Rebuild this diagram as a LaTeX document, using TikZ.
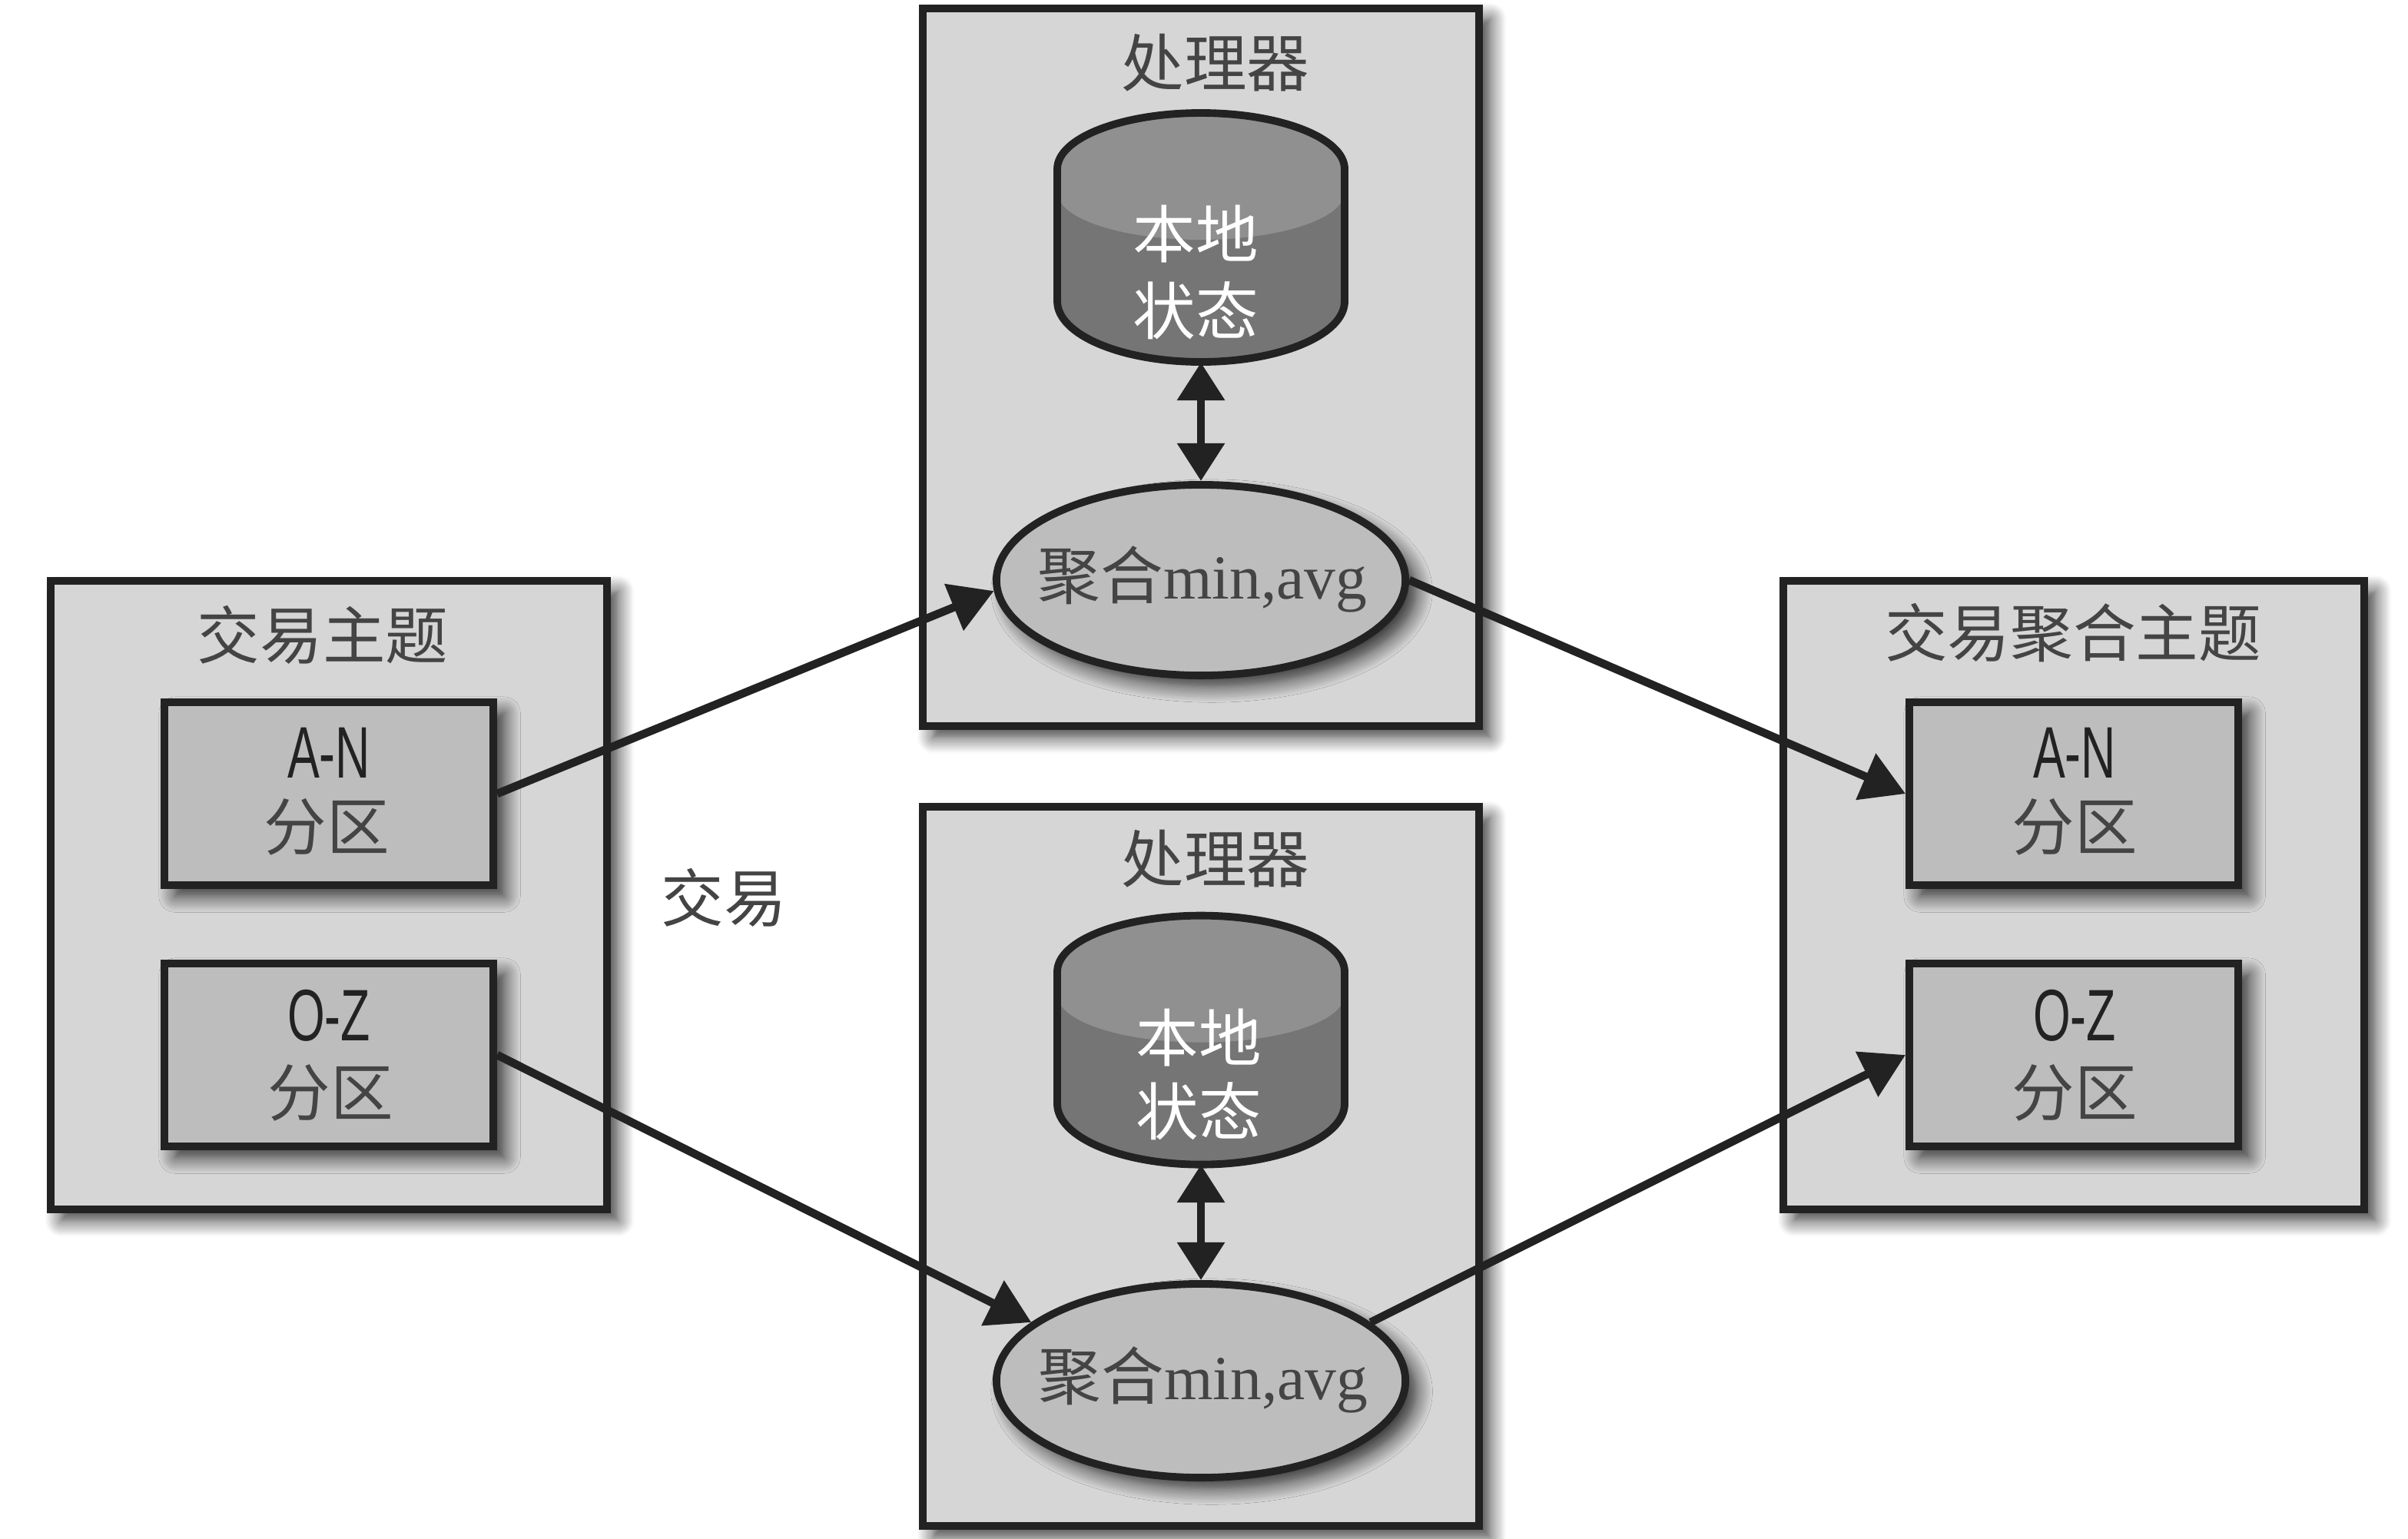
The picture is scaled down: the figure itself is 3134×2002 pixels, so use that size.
\documentclass[tikz,border=0pt]{standalone}
\usepackage{fontspec}
\setmainfont{Liberation Serif}
\newfontfamily\cjk{Noto Sans CJK SC}
\newfontfamily\latinsans{Liberation Sans}
\usetikzlibrary{shapes.geometric,arrows.meta,shadows.blur}
\definecolor{ink}{HTML}{222222}
\definecolor{txt}{HTML}{444444}
\definecolor{boxfill}{HTML}{D6D6D6}
\definecolor{partfill}{HTML}{BDBDBD}
\definecolor{dbtop}{HTML}{909090}
\definecolor{dbbody}{HTML}{757575}
\tikzset{
  softshadow/.style={blur shadow={shadow xshift=4pt,shadow yshift=-4pt,shadow blur radius=6pt,shadow blur steps=10,shadow opacity=80}},
  outerbox/.style={draw=ink,line width=2.8pt,fill=boxfill,rectangle,softshadow,inner sep=0pt},
  partbox/.style={draw=ink,line width=2.8pt,fill=partfill,rectangle,softshadow,inner sep=0pt,minimum width=4.28cm,minimum height=2.38cm},
  aggnode/.style={draw=ink,line width=2.8pt,fill=partfill,ellipse,softshadow,inner sep=0pt,minimum width=5.32cm,minimum height=2.48cm},
  dbanchor/.style={rectangle,inner sep=0pt,minimum width=3.74cm,minimum height=3.24cm},
  label/.style={text=txt,inner sep=0pt,font=\cjk\fontsize{23.2}{27}\selectfont},
  dblabel/.style={text=white,inner sep=0pt,font=\cjk\fontsize{23.2}{27}\selectfont},
  code/.style={text=ink,inner sep=0pt,font=\latinsans\fontsize{27}{31}\selectfont,xscale=.66},
  flow/.style={draw=ink,line width=3pt,-{Triangle[length=16pt,width=18pt]}},
  bothflow/.style={draw=ink,line width=3pt,{Triangle[length=14pt,width=17pt]}-{Triangle[length=14pt,width=17pt]}}
}
\newcommand{\dbdraw}[1]{%
  \begin{scope}[yshift=#1]
    \fill[dbbody] (1376,220) -- (1376,392) arc[x radius=187,y radius=79,start angle=180,end angle=0] -- (1750,220) -- cycle;
    \fill[dbtop] (1376,220) arc[x radius=187,y radius=73,start angle=180,end angle=360] -- (1750,250) arc[x radius=187,y radius=62,start angle=0,end angle=180] -- cycle;
    \draw[ink,line width=2.8pt] (1376,220) arc[x radius=187,y radius=73,start angle=180,end angle=360] -- (1750,392) arc[x radius=187,y radius=79,start angle=0,end angle=180] -- cycle;
  \end{scope}}
\begin{document}
\begin{tikzpicture}[x=0.01cm,y=-0.01cm]
\useasboundingbox (0,0) rectangle (3134,2002);
% outer boxes
\node[outerbox,minimum width=7.24cm,minimum height=9.34cm] (proc1) at (1563,478) {};
\node[outerbox,minimum width=7.24cm,minimum height=9.36cm] (proc2) at (1563,1518) {};
\node[outerbox,minimum width=7.24cm,minimum height=8.18cm] (srcbox) at (428,1165) {};
\node[outerbox,minimum width=7.56cm,minimum height=8.18cm] (dstbox) at (2699,1165) {};
% partitions
\node[partbox] (srcA) at (428,1033) {};
\node[partbox] (srcO) at (428,1373) {};
\node[partbox] (dstA) at (2699,1033) {};
\node[partbox] (dstO) at (2699,1373) {};
% stores
\dbdraw{0cm}
\dbdraw{-10.44cm}
\node[dbanchor] (db1) at (1563,309) {};
\node[dbanchor] (db2) at (1563,1353) {};
% aggregators
\node[aggnode] (agg1) at (1563,755) {};
\node[aggnode,minimum height=2.52cm] (agg2) at (1563,1797) {};
% texts
\node[label] (t1) at (1582,82) {处理器};
\node[label] (t2) at (1582,1118) {处理器};
\node[dblabel] (s1) at (1556,304) {本地};
\node[dblabel] (s2) at (1556,404) {状态};
\node[dblabel] (s3) at (1560,1350) {本地};
\node[dblabel] (s4) at (1560,1446) {状态};
\node[label] (a1) at (1565,754) {聚合\fontspec{Liberation Serif}min,avg};
\node[label] (a2) at (1566,1796) {聚合\fontspec{Liberation Serif}min,avg};
\node[label] (t3) at (420,826) {交易主题};
\node[label] (t4) at (2698,824) {交易聚合主题};
\node[label] (t5) at (942,1168) {交易};
\node[code] (c1) at (428,980) {A-N};
\node[label] (p1) at (425,1076) {分区};
\node[code] (c2) at (428,1322) {O-Z};
\node[label] (p2) at (430,1422) {分区};
\node[code] (c3) at (2700,980) {A-N};
\node[label] (p3) at (2700,1076) {分区};
\node[code] (c4) at (2700,1322) {O-Z};
\node[label] (p4) at (2700,1422) {分区};
% connectors
\draw[bothflow] (db1.south) -- (agg1.north);
\draw[bothflow] (db2.south) -- (agg2.north);
\draw[flow] (srcA.east) -- (agg1.183);
\draw[flow] (agg1.0) -- (dstA.west);
\draw[flow] (srcO.east) -- (agg2.161);
\draw[flow] (agg2.19) -- (dstO.west);
\end{tikzpicture}
\end{document}
